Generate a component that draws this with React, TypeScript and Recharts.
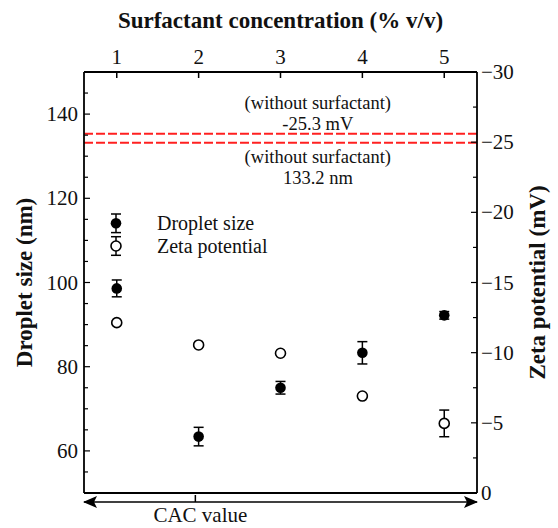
import React from 'react';
import { ScatterChart, Scatter, XAxis, YAxis, ErrorBar, ReferenceLine, Legend } from 'recharts';

const FONT = '"Liberation Serif", "Times New Roman", serif';

// surfactant concentration (% v/v)
const concentrations = [1, 2, 3, 4, 5];
// droplet size (nm) with error
const dropletSize = [98.6, 63.4, 75.0, 83.3, 92.2];
const dropletError = [2.0, 2.2, 1.5, 2.65, 0.9];
// zeta potential (mV) with error
const zetaPotential = [-12.14, -10.55, -9.96, -6.91, -4.96];
const zetaError = [0.1, 0.1, 0.1, 0.1, 0.95];

// reference values without surfactant
const refZeta = -25.6;
const refZetaLabel = ['(without surfactant)', '-25.3 mV'];
const refSize = 133.2;
const refSizeLabel = ['(without surfactant)', '133.2 nm'];
const cacValue = 1.96;

const xDomain = [0.6, 5.4];
const xTicks = [1, 2, 3, 4, 5];
const sizeDomain = [50, 150];
const sizeTicks = [50, 55, 60, 65, 70, 75, 80, 85, 90, 95, 100, 105, 110, 115, 120, 125, 130, 135, 140, 145, 150];
const sizeLabels = [60, 80, 100, 120, 140];
const zetaTicks = [-30, -27.5, -25, -22.5, -20, -17.5, -15, -12.5, -10, -7.5, -5, -2.5, 0];
const zetaLabels = [-30, -25, -20, -15, -10, -5, 0];

const dropletData = concentrations.map((c, i) => ({ x: c, y: dropletSize[i], err: dropletError[i] }));
const zetaData = concentrations.map((c, i) => ({ x: c, y: zetaPotential[i], err: zetaError[i] }));

const fmtMinus = (v: number) => (v < 0 ? '\u2212' + Math.abs(v) : String(v));

const TopTick = ({ x, y, payload }: any) => (
  <g>
    <line x1={x} y1={y} x2={x} y2={y + 6} stroke="#000" strokeWidth={1.5} />
    <text x={x} y={y - 8} textAnchor="middle" fontSize={21} fontFamily={FONT} fill="#111">
      {payload.value}
    </text>
  </g>
);

const LeftTick = ({ x, y, payload }: any) => {
  const major = sizeLabels.includes(payload.value);
  return (
    <g>
      <line x1={x} y1={y} x2={x + (major ? 6 : 4)} y2={y} stroke="#000" strokeWidth={1.2} />
      {major && (
        <text x={x - 6} y={y} textAnchor="end" dominantBaseline="central" fontSize={21} fontFamily={FONT} fill="#111">
          {payload.value}
        </text>
      )}
    </g>
  );
};

const RightTick = ({ x, y, payload }: any) => {
  const major = zetaLabels.includes(payload.value);
  return (
    <g>
      <line x1={x} y1={y} x2={x - (major ? 6 : 4)} y2={y} stroke="#000" strokeWidth={1.2} />
      {major && (
        <text x={x + 4} y={y} textAnchor="start" dominantBaseline="central" fontSize={21} fontFamily={FONT} fill="#111">
          {fmtMinus(payload.value)}
        </text>
      )}
    </g>
  );
};

const CacTick = ({ x, y }: any) => (
  <g>
    <line x1={x} y1={y} x2={x} y2={y - 7} stroke="#000" strokeWidth={1.5} />
    <text x={x + 5} y={y + 20} textAnchor="middle" fontSize={21} fontFamily={FONT} fill="#111">
      CAC value
    </text>
  </g>
);

const AxisTitle = ({ viewBox, text, side }: any) => {
  const vb = viewBox || { x: 0, y: 0, width: 0, height: 0 };
  if (side === 'top') {
    return (
      <text x={vb.x + vb.width / 2} y={20} textAnchor="middle" dominantBaseline="central" fontSize={23} fontWeight="bold" fontFamily={FONT} fill="#111">
        {text}
      </text>
    );
  }
  const cx = side === 'left' ? 24 : 537;
  const cy = vb.y + vb.height / 2;
  return (
    <text x={cx} y={cy} transform={`rotate(-90 ${cx} ${cy})`} textAnchor="middle" dominantBaseline="central" fontSize={23} fontWeight="bold" fontFamily={FONT} fill="#111">
      {text}
    </text>
  );
};

const RefText = ({ viewBox, lines, above }: any) => {
  const vb = viewBox || { x: 0, y: 0, width: 0 };
  const cx = vb.x + vb.width * 0.595;
  const offs = above ? [-25, -4] : [20, 41];
  return (
    <g>
      {lines.map((l: string, i: number) => (
        <text key={i} x={cx} y={vb.y + offs[i]} textAnchor="middle" fontSize={18.5} fontFamily={FONT} fill="#111">
          {l}
        </text>
      ))}
    </g>
  );
};

const FilledDot = ({ cx, cy }: any) => <circle cx={cx} cy={cy} r={5.3} fill="#000" />;
const OpenDot = ({ cx, cy }: any) => <circle cx={cx} cy={cy} r={5} fill="#fff" stroke="#000" strokeWidth={1.6} />;
const NoDot = () => <g />;

const LegendMark = ({ cx, cy, filled }: any) => (
  <g>
    <line x1={cx} y1={cy - 9.3} x2={cx} y2={cy + 9.3} stroke="#000" strokeWidth={1.5} />
    <line x1={cx - 5} y1={cy - 9.3} x2={cx + 5} y2={cy - 9.3} stroke="#000" strokeWidth={1.5} />
    <line x1={cx - 5} y1={cy + 9.3} x2={cx + 5} y2={cy + 9.3} stroke="#000" strokeWidth={1.5} />
    {filled ? <FilledDot cx={cx} cy={cy} /> : <OpenDot cx={cx} cy={cy} />}
  </g>
);

const LegendContent = () => (
  <svg width={180} height={50}>
    <LegendMark cx={10} cy={12.3} filled />
    <text x={51} y={12.3} dominantBaseline="central" fontSize={20} fontFamily={FONT} fill="#111">
      Droplet size
    </text>
    <LegendMark cx={10} cy={35} />
    <text x={51} y={35} dominantBaseline="central" fontSize={20} fontFamily={FONT} fill="#111">
      Zeta potential
    </text>
  </svg>
);

export default function App() {
  return (
    <div style={{ position: 'absolute', left: 0, top: 0, width: 558, height: 528, background: '#fff' }}>
      <svg width={0} height={0} style={{ position: 'absolute' }}>
        <defs>
          <marker id="arrowHead" markerUnits="userSpaceOnUse" markerWidth={14} markerHeight={12} viewBox="0 0 14 12" refX={13} refY={6} orient="auto-start-reverse">
            <path d="M0,0 L14,6 L0,12 L3,6 Z" fill="#000" />
          </marker>
        </defs>
      </svg>
      <ScatterChart width={558} height={528} margin={{ top: 0, right: 0, bottom: 0, left: 0 }}>
        <XAxis
          xAxisId="top"
          orientation="top"
          type="number"
          dataKey="x"
          domain={xDomain}
          ticks={xTicks}
          interval={0}
          height={72}
          tickSize={0}
          tickMargin={0}
          tickLine={false}
          axisLine={{ stroke: '#000', strokeWidth: 1.8 }}
          tick={TopTick}
          label={<AxisTitle side="top" text="Surfactant concentration (% v/v)" />}
        />
        <XAxis
          xAxisId="bcac"
          orientation="bottom"
          type="number"
          dataKey="x"
          domain={xDomain}
          allowDataOverflow
          ticks={[cacValue]}
          interval={0}
          height={26}
          tickSize={0}
          tickMargin={0}
          tickLine={false}
          axisLine={{ stroke: '#000', strokeWidth: 1.5, markerStart: 'url(#arrowHead)', markerEnd: 'url(#arrowHead)' }}
          tick={CacTick}
        />
        <XAxis
          xAxisId="aframe"
          orientation="bottom"
          type="number"
          domain={xDomain}
          allowDataOverflow
          height={9}
          tick={false}
          tickLine={false}
          axisLine={false}
        />
        <YAxis
          yAxisId="left"
          orientation="left"
          type="number"
          dataKey="y"
          domain={sizeDomain}
          ticks={sizeTicks}
          interval={0}
          width={84}
          tickSize={0}
          tickMargin={0}
          tickLine={false}
          axisLine={{ stroke: '#000', strokeWidth: 1.8 }}
          tick={LeftTick}
          label={<AxisTitle side="left" text="Droplet size (nm)" />}
        />
        <YAxis
          yAxisId="right"
          orientation="right"
          type="number"
          dataKey="y"
          domain={[-30, 0]}
          reversed
          ticks={zetaTicks}
          interval={0}
          width={81}
          tickSize={0}
          tickMargin={0}
          tickLine={false}
          axisLine={{ stroke: '#000', strokeWidth: 1.8 }}
          tick={RightTick}
          label={<AxisTitle side="right" text="Zeta potential (mV)" />}
        />
        {/* bottom edge of the frame */}
        <ReferenceLine xAxisId="top" yAxisId="left" y={sizeDomain[0]} stroke="#000" strokeWidth={1.8} ifOverflow="visible" />
        <ReferenceLine
          xAxisId="top"
          yAxisId="right"
          y={refZeta}
          stroke="#ff2020"
          strokeWidth={2}
          strokeDasharray="9 3"
          label={<RefText lines={refZetaLabel} above />}
        />
        <ReferenceLine
          xAxisId="top"
          yAxisId="left"
          y={refSize}
          stroke="#ff2020"
          strokeWidth={2}
          strokeDasharray="9 3"
          label={<RefText lines={refSizeLabel} />}
        />
        {/* binds the CAC arrow axis to the concentration values, draws nothing */}
        <Scatter data={dropletData} xAxisId="bcac" yAxisId="left" shape={NoDot} legendType="none" isAnimationActive={false} />
        <Scatter name="Droplet size" data={dropletData} xAxisId="top" yAxisId="left" shape={FilledDot} isAnimationActive={false}>
          <ErrorBar dataKey="err" direction="y" width={5} stroke="#000" strokeWidth={1.5} />
        </Scatter>
        <Scatter name="Zeta potential" data={zetaData} xAxisId="top" yAxisId="right" shape={OpenDot} isAnimationActive={false}>
          <ErrorBar dataKey="err" direction="y" width={5} stroke="#000" strokeWidth={1.5} />
        </Scatter>
        <Legend
          layout="vertical"
          align="center"
          verticalAlign="middle"
          content={LegendContent}
          wrapperStyle={{ left: 106, top: 211, width: 180 }}
        />
      </ScatterChart>
    </div>
  );
}
